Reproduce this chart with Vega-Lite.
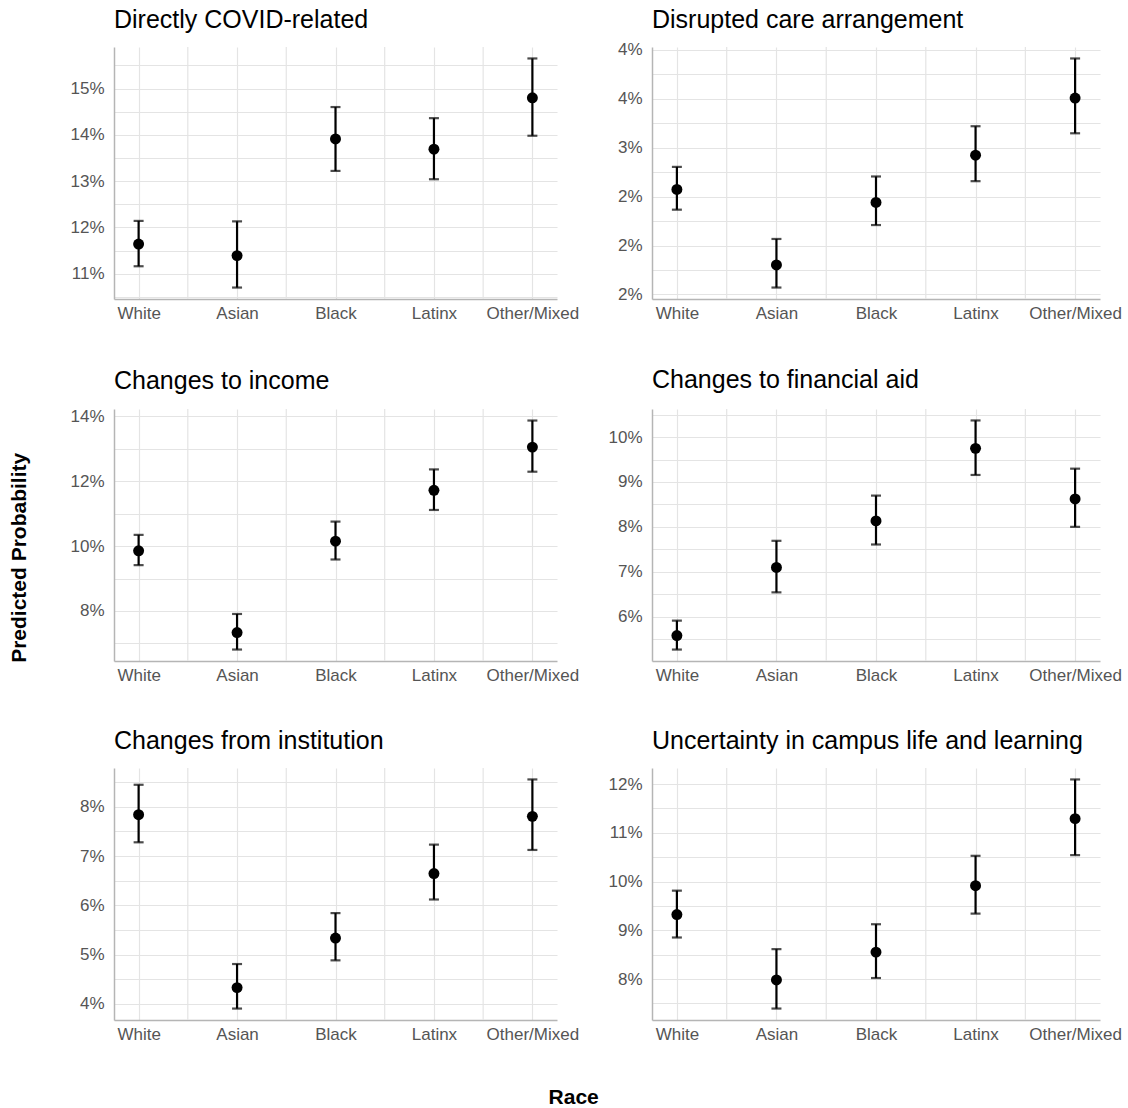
{
  "$schema": "https://vega.github.io/schema/vega-lite/v6.json",
  "background": "white",
  "padding": {"left": 8, "top": 7, "right": 0, "bottom": 0},
  "datasets": {
    "d": [
      {"panel": "Directly COVID-related", "race": "White", "p": 0.1164, "lower": 0.1116, "upper": 0.1214},
      {"panel": "Directly COVID-related", "race": "Asian", "p": 0.1139, "lower": 0.1070, "upper": 0.1213},
      {"panel": "Directly COVID-related", "race": "Black", "p": 0.1391, "lower": 0.1322, "upper": 0.1460},
      {"panel": "Directly COVID-related", "race": "Latinx", "p": 0.1369, "lower": 0.1304, "upper": 0.1436},
      {"panel": "Directly COVID-related", "race": "Other/Mixed", "p": 0.1480, "lower": 0.1398, "upper": 0.1565},
      {"panel": "Disrupted care arrangement", "race": "White", "p": 0.02573, "lower": 0.02366, "upper": 0.02803},
      {"panel": "Disrupted care arrangement", "race": "Asian", "p": 0.01802, "lower": 0.01571, "upper": 0.02067},
      {"panel": "Disrupted care arrangement", "race": "Black", "p": 0.02440, "lower": 0.02209, "upper": 0.02705},
      {"panel": "Disrupted care arrangement", "race": "Latinx", "p": 0.02922, "lower": 0.02657, "upper": 0.03218},
      {"panel": "Disrupted care arrangement", "race": "Other/Mixed", "p": 0.03506, "lower": 0.03146, "upper": 0.03910},
      {"panel": "Changes to income", "race": "White", "p": 0.09853, "lower": 0.09412, "upper": 0.10344},
      {"panel": "Changes to income", "race": "Asian", "p": 0.07335, "lower": 0.06813, "upper": 0.07908},
      {"panel": "Changes to income", "race": "Black", "p": 0.10149, "lower": 0.09586, "upper": 0.10753},
      {"panel": "Changes to income", "race": "Latinx", "p": 0.11715, "lower": 0.11111, "upper": 0.12360},
      {"panel": "Changes to income", "race": "Other/Mixed", "p": 0.13046, "lower": 0.12289, "upper": 0.13865},
      {"panel": "Changes to financial aid", "race": "White", "p": 0.05578, "lower": 0.05267, "upper": 0.05911},
      {"panel": "Changes to financial aid", "race": "Asian", "p": 0.07096, "lower": 0.06541, "upper": 0.07689},
      {"panel": "Changes to financial aid", "race": "Black", "p": 0.08133, "lower": 0.07607, "upper": 0.08696},
      {"panel": "Changes to financial aid", "race": "Latinx", "p": 0.09748, "lower": 0.09156, "upper": 0.10370},
      {"panel": "Changes to financial aid", "race": "Other/Mixed", "p": 0.08622, "lower": 0.08000, "upper": 0.09296},
      {"panel": "Changes from institution", "race": "White", "p": 0.07838, "lower": 0.07278, "upper": 0.08445},
      {"panel": "Changes from institution", "race": "Asian", "p": 0.04331, "lower": 0.03906, "upper": 0.04809},
      {"panel": "Changes from institution", "race": "Black", "p": 0.05336, "lower": 0.04884, "upper": 0.05842},
      {"panel": "Changes from institution", "race": "Latinx", "p": 0.06644, "lower": 0.06118, "upper": 0.07231},
      {"panel": "Changes from institution", "race": "Other/Mixed", "p": 0.07804, "lower": 0.07123, "upper": 0.08553},
      {"panel": "Uncertainty in campus life and learning", "race": "White", "p": 0.09322, "lower": 0.08852, "upper": 0.09813},
      {"panel": "Uncertainty in campus life and learning", "race": "Asian", "p": 0.07980, "lower": 0.07394, "upper": 0.08613},
      {"panel": "Uncertainty in campus life and learning", "race": "Black", "p": 0.08552, "lower": 0.08020, "upper": 0.09124},
      {"panel": "Uncertainty in campus life and learning", "race": "Latinx", "p": 0.09915, "lower": 0.09342, "upper": 0.10528},
      {"panel": "Uncertainty in campus life and learning", "race": "Other/Mixed", "p": 0.11291, "lower": 0.10542, "upper": 0.12095}
    ]
  },
  "config": {
    "view": {"stroke": null},
    "font": "Liberation Sans",
    "axis": {
      "labelFont": "Liberation Sans",
      "labelFontSize": 17,
      "labelColor": "#555555",
      "ticks": false,
      "gridColor": "#e4e4e4",
      "gridWidth": 1.2,
      "domainColor": "#b5b5b5",
      "domainWidth": 1.5,
      "title": null
    },
    "axisX": {"labelPadding": 6, "labelAngle": 0},
    "axisY": {"labelPadding": 10, "labelOverlap": false},
    "title": {
      "font": "Liberation Sans",
      "fontSize": 25,
      "fontWeight": "normal",
      "color": "#000000",
      "anchor": "start",
      "frame": "group",
      "offset": 13
    }
  },
  "title": {
    "text": "Predicted Probability",
    "orient": "left",
    "anchor": "middle",
    "frame": "bounds",
    "fontSize": 21,
    "fontWeight": "bold",
    "offset": 40
  },
  "vconcat": [
    {
      "title": {
        "text": "Race",
        "orient": "bottom",
        "anchor": "middle",
        "frame": "bounds",
        "fontSize": 21,
        "fontWeight": "bold",
        "offset": 45,
        "dx": -22
      },
      "columns": 2,
      "spacing": {"row": 46, "column": 28},
      "concat": [
        {
          "title": "Directly COVID-related",
          "width": 443, "height": 252,
          "data": {"name": "d"},
          "transform": [{"filter": "datum.panel === 'Directly COVID-related'"}],
          "encoding": {
            "x": {"field": "race", "type": "nominal", "scale": {"type": "point", "padding": 0.25, "domain": ["White", "Asian", "Black", "Latinx", "Other/Mixed"]}, "axis": {"grid": true, "title": null}}
          },
          "layer": [
            {"transform": [{"filter": "datum.race !== 'Other/Mixed'"}], "mark": {"type": "rule", "xOffset": 49.2, "color": "#e4e4e4", "strokeWidth": 1.2}},
            {"mark": {"type": "errorbar", "ticks": true, "size": 10, "thickness": 2.2, "color": "black"}, "encoding": {"y": {"field": "lower", "type": "quantitative", "title": null, "scale": {"domain": [0.104525, 0.158975], "nice": false, "zero": false}, "axis": {"title": null, "values": [0.105, 0.11, 0.115, 0.12, 0.125, 0.13, 0.135, 0.14, 0.145, 0.15, 0.155], "labelExpr": "abs(datum.value*100 - round(datum.value*100)) < 0.001 ? format(datum.value, '.0%') : ''"}}, "y2": {"field": "upper"}}},
            {"mark": {"type": "circle", "color": "black", "size": 120, "opacity": 1}, "encoding": {"y": {"field": "p", "type": "quantitative", "title": null, "scale": {"domain": [0.104525, 0.158975], "nice": false, "zero": false}, "axis": {"title": null, "values": [0.105, 0.11, 0.115, 0.12, 0.125, 0.13, 0.135, 0.14, 0.145, 0.15, 0.155], "labelExpr": "abs(datum.value*100 - round(datum.value*100)) < 0.001 ? format(datum.value, '.0%') : ''"}}}}
          ]
        },
        {
          "title": {"text": "Disrupted care arrangement", "offset": 8},
          "width": 448, "height": 252,
          "data": {"name": "d"},
          "transform": [{"filter": "datum.panel === 'Disrupted care arrangement'"}],
          "encoding": {
            "x": {"field": "race", "type": "nominal", "scale": {"type": "point", "padding": 0.25, "domain": ["White", "Asian", "Black", "Latinx", "Other/Mixed"]}, "axis": {"grid": true, "title": null}}
          },
          "layer": [
            {"transform": [{"filter": "datum.race !== 'Other/Mixed'"}], "mark": {"type": "rule", "xOffset": 49.8, "color": "#e4e4e4", "strokeWidth": 1.2}},
            {"mark": {"type": "errorbar", "ticks": true, "size": 10, "thickness": 2.2, "color": "black"}, "encoding": {"y": {"field": "lower", "type": "quantitative", "title": null, "scale": {"domain": [0.01454, 0.04027], "nice": false, "zero": false}, "axis": {"title": null, "values": [0.015, 0.0175, 0.02, 0.0225, 0.025, 0.0275, 0.03, 0.0325, 0.035, 0.0375, 0.04], "labelExpr": "abs(datum.value*200 - round(datum.value*200)) < 0.001 ? (datum.value < 0.0285 ? '2%' : datum.value < 0.0315 ? '3%' : '4%') : ''"}}, "y2": {"field": "upper"}}},
            {"mark": {"type": "circle", "color": "black", "size": 120, "opacity": 1}, "encoding": {"y": {"field": "p", "type": "quantitative", "title": null, "scale": {"domain": [0.01454, 0.04027], "nice": false, "zero": false}, "axis": {"title": null, "values": [0.015, 0.0175, 0.02, 0.0225, 0.025, 0.0275, 0.03, 0.0325, 0.035, 0.0375, 0.04], "labelExpr": "abs(datum.value*200 - round(datum.value*200)) < 0.001 ? (datum.value < 0.0285 ? '2%' : datum.value < 0.0315 ? '3%' : '4%') : ''"}}}}
          ]
        },
        {
          "title": "Changes to income",
          "width": 443, "height": 252,
          "data": {"name": "d"},
          "transform": [{"filter": "datum.panel === 'Changes to income'"}],
          "encoding": {
            "x": {"field": "race", "type": "nominal", "scale": {"type": "point", "padding": 0.25, "domain": ["White", "Asian", "Black", "Latinx", "Other/Mixed"]}, "axis": {"grid": true, "title": null}}
          },
          "layer": [
            {"transform": [{"filter": "datum.race !== 'Other/Mixed'"}], "mark": {"type": "rule", "xOffset": 49.2, "color": "#e4e4e4", "strokeWidth": 1.2}},
            {"mark": {"type": "errorbar", "ticks": true, "size": 10, "thickness": 2.2, "color": "black"}, "encoding": {"y": {"field": "lower", "type": "quantitative", "title": null, "scale": {"domain": [0.0646, 0.1422], "nice": false, "zero": false}, "axis": {"title": null, "values": [0.07, 0.08, 0.09, 0.10, 0.11, 0.12, 0.13, 0.14], "labelExpr": "abs(datum.value*50 - round(datum.value*50)) < 0.001 ? format(datum.value, '.0%') : ''"}}, "y2": {"field": "upper"}}},
            {"mark": {"type": "circle", "color": "black", "size": 120, "opacity": 1}, "encoding": {"y": {"field": "p", "type": "quantitative", "title": null, "scale": {"domain": [0.0646, 0.1422], "nice": false, "zero": false}, "axis": {"title": null, "values": [0.07, 0.08, 0.09, 0.10, 0.11, 0.12, 0.13, 0.14], "labelExpr": "abs(datum.value*50 - round(datum.value*50)) < 0.001 ? format(datum.value, '.0%') : ''"}}}}
          ]
        },
        {
          "title": "Changes to financial aid",
          "width": 448, "height": 252,
          "data": {"name": "d"},
          "transform": [{"filter": "datum.panel === 'Changes to financial aid'"}],
          "encoding": {
            "x": {"field": "race", "type": "nominal", "scale": {"type": "point", "padding": 0.25, "domain": ["White", "Asian", "Black", "Latinx", "Other/Mixed"]}, "axis": {"grid": true, "title": null}}
          },
          "layer": [
            {"transform": [{"filter": "datum.race !== 'Other/Mixed'"}], "mark": {"type": "rule", "xOffset": 49.8, "color": "#e4e4e4", "strokeWidth": 1.2}},
            {"mark": {"type": "errorbar", "ticks": true, "size": 10, "thickness": 2.2, "color": "black"}, "encoding": {"y": {"field": "lower", "type": "quantitative", "title": null, "scale": {"domain": [0.05012, 0.10625], "nice": false, "zero": false}, "axis": {"title": null, "values": [0.05, 0.055, 0.06, 0.065, 0.07, 0.075, 0.08, 0.085, 0.09, 0.095, 0.10, 0.105], "labelExpr": "abs(datum.value*100 - round(datum.value*100)) < 0.001 ? format(datum.value, '.0%') : ''"}}, "y2": {"field": "upper"}}},
            {"mark": {"type": "circle", "color": "black", "size": 120, "opacity": 1}, "encoding": {"y": {"field": "p", "type": "quantitative", "title": null, "scale": {"domain": [0.05012, 0.10625], "nice": false, "zero": false}, "axis": {"title": null, "values": [0.05, 0.055, 0.06, 0.065, 0.07, 0.075, 0.08, 0.085, 0.09, 0.095, 0.10, 0.105], "labelExpr": "abs(datum.value*100 - round(datum.value*100)) < 0.001 ? format(datum.value, '.0%') : ''"}}}}
          ]
        },
        {
          "title": "Changes from institution",
          "width": 443, "height": 252,
          "data": {"name": "d"},
          "transform": [{"filter": "datum.panel === 'Changes from institution'"}],
          "encoding": {
            "x": {"field": "race", "type": "nominal", "scale": {"type": "point", "padding": 0.25, "domain": ["White", "Asian", "Black", "Latinx", "Other/Mixed"]}, "axis": {"grid": true, "title": null}}
          },
          "layer": [
            {"transform": [{"filter": "datum.race !== 'Other/Mixed'"}], "mark": {"type": "rule", "xOffset": 49.2, "color": "#e4e4e4", "strokeWidth": 1.2}},
            {"mark": {"type": "errorbar", "ticks": true, "size": 10, "thickness": 2.2, "color": "black"}, "encoding": {"y": {"field": "lower", "type": "quantitative", "title": null, "scale": {"domain": [0.03674, 0.08785], "nice": false, "zero": false}, "axis": {"title": null, "values": [0.04, 0.045, 0.05, 0.055, 0.06, 0.065, 0.07, 0.075, 0.08, 0.085], "labelExpr": "abs(datum.value*100 - round(datum.value*100)) < 0.001 ? format(datum.value, '.0%') : ''"}}, "y2": {"field": "upper"}}},
            {"mark": {"type": "circle", "color": "black", "size": 120, "opacity": 1}, "encoding": {"y": {"field": "p", "type": "quantitative", "title": null, "scale": {"domain": [0.03674, 0.08785], "nice": false, "zero": false}, "axis": {"title": null, "values": [0.04, 0.045, 0.05, 0.055, 0.06, 0.065, 0.07, 0.075, 0.08, 0.085], "labelExpr": "abs(datum.value*100 - round(datum.value*100)) < 0.001 ? format(datum.value, '.0%') : ''"}}}}
          ]
        },
        {
          "title": "Uncertainty in campus life and learning",
          "width": 448, "height": 252,
          "data": {"name": "d"},
          "transform": [{"filter": "datum.panel === 'Uncertainty in campus life and learning'"}],
          "encoding": {
            "x": {"field": "race", "type": "nominal", "scale": {"type": "point", "padding": 0.25, "domain": ["White", "Asian", "Black", "Latinx", "Other/Mixed"]}, "axis": {"grid": true, "title": null}}
          },
          "layer": [
            {"transform": [{"filter": "datum.race !== 'Other/Mixed'"}], "mark": {"type": "rule", "xOffset": 49.8, "color": "#e4e4e4", "strokeWidth": 1.2}},
            {"mark": {"type": "errorbar", "ticks": true, "size": 10, "thickness": 2.2, "color": "black"}, "encoding": {"y": {"field": "lower", "type": "quantitative", "title": null, "scale": {"domain": [0.07159, 0.1233], "nice": false, "zero": false}, "axis": {"title": null, "values": [0.075, 0.08, 0.085, 0.09, 0.095, 0.10, 0.105, 0.11, 0.115, 0.12], "labelExpr": "abs(datum.value*100 - round(datum.value*100)) < 0.001 ? format(datum.value, '.0%') : ''"}}, "y2": {"field": "upper"}}},
            {"mark": {"type": "circle", "color": "black", "size": 120, "opacity": 1}, "encoding": {"y": {"field": "p", "type": "quantitative", "title": null, "scale": {"domain": [0.07159, 0.1233], "nice": false, "zero": false}, "axis": {"title": null, "values": [0.075, 0.08, 0.085, 0.09, 0.095, 0.10, 0.105, 0.11, 0.115, 0.12], "labelExpr": "abs(datum.value*100 - round(datum.value*100)) < 0.001 ? format(datum.value, '.0%') : ''"}}}}
          ]
        }
      ]
    }
  ]
}
